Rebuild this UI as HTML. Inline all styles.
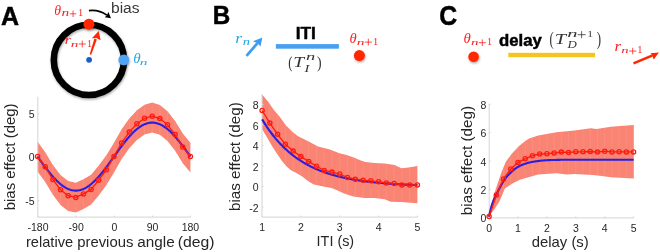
<!DOCTYPE html>
<html><head><meta charset="utf-8"><style>
html,body{margin:0;padding:0;background:#fff;width:660px;height:252px;overflow:hidden}
svg{display:block;will-change:transform}
text{font-family:"Liberation Sans",sans-serif}
.si{font-family:"Liberation Serif",serif;font-style:italic}
.sr{font-family:"Liberation Serif",serif}
.ab{font-weight:bold}
</style></head><body>
<svg width="660" height="252" viewBox="0 0 660 252">
<defs>
<filter id="sh" x="-20%" y="-20%" width="140%" height="140%">
<feDropShadow dx="0.6" dy="1.4" stdDeviation="1.1" flood-color="#000" flood-opacity="0.35"/>
</filter>
</defs>
<rect width="660" height="252" fill="#fff"/>

<g font-weight="bold" font-size="25" fill="#000" stroke="#000" stroke-width="0.5" stroke-linejoin="round">
<text x="1.0" y="24.5">A</text><text transform="translate(212.8,24.45) scale(0.97,1)">B</text><text font-size="27" transform="translate(439.2,25.1) scale(0.92,1)">C</text>
</g>
<g filter="url(#sh)">
<circle cx="88.9" cy="59.9" r="35.1" fill="none" stroke="#000" stroke-width="6.6"/>
</g>
<circle cx="89.1" cy="59.8" r="2.9" fill="#1a5fc8"/>
<g filter="url(#sh)"><circle cx="88.9" cy="24.2" r="5.5" fill="#ff2600"/>
<circle cx="123.8" cy="59.9" r="5.4" fill="#4fa3f2"/></g>
<polygon points="89.7,54.2 91.2,54.7 96.9,39.4 94.4,38.6" fill="#ff2600"/>
<polygon points="98.7,31 100.6,40.2 96.2,37.9 91.9,38.2" fill="#ff2600"/>
<path d="M88.9,10.6 Q99,9.4 106.8,15.2" fill="none" stroke="#000" stroke-width="1.6"/>
<polygon points="111,18.3 104.8,17.3 106.8,15.2 108.4,12.0" fill="#000"/>
<text class="ar" font-size="14.5" fill="#3a3a3a" transform="translate(110.96,12.70) scale(1.0782,1)">bias</text>
<text class="si" font-size="14.34" fill="#ff2020" transform="translate(54.33,14.66) scale(0.964,1)">θ</text><text class="si" font-size="9.34" fill="#ff2020" transform="translate(61.61,16.48) scale(1.652,1)">n</text><path d="M69.80,13.80H76.30M73.05,10.50V17.10" stroke="#ff2020" stroke-width="0.8" fill="none"/><text class="sr" font-size="9.81" fill="#ff2020" transform="translate(77.96,16.48) scale(1.066,1)">1</text>
<text class="si" font-size="12.56" fill="#ff2020" transform="translate(64.67,44.08) scale(1.242,1)">r</text><text class="si" font-size="8.91" fill="#ff2020" transform="translate(70.81,46.58) scale(1.705,1)">n</text><path d="M78.70,44.00H85.80M82.25,40.60V47.40" stroke="#ff2020" stroke-width="0.8" fill="none"/><text class="sr" font-size="9.81" fill="#ff2020" transform="translate(86.89,46.58) scale(1.037,1)">1</text>
<text class="si" font-size="14.20" fill="#22a9e1" transform="translate(133.27,63.46) scale(1.058,1)">θ</text><text class="si" font-size="8.91" fill="#22a9e1" transform="translate(139.81,65.38) scale(1.732,1)">n</text>
<text class="si" font-size="13.84" fill="#22a9e1" transform="translate(235.19,42.98) scale(1.271,1)">r</text><text class="si" font-size="9.56" fill="#22a9e1" transform="translate(242.74,45.18) scale(1.517,1)">n</text>
<line x1="246.5" y1="55.9" x2="257.5" y2="43.2" stroke="#3d9df5" stroke-width="2.8"/>
<polygon points="262.4,37.5 260.5,46.4 257.5,43.2 252.9,41.3" fill="#3d9df5"/>
<text class="ab" font-size="16.5" fill="#000" transform="translate(295.65,38.60) scale(1.0499,1)" stroke="#000" stroke-width="0.45">ITI</text>
<rect x="275.9" y="44.1" width="63" height="4.6" fill="#4aa0f0"/>
<text class="sr" font-size="17.57" fill="#333333" transform="translate(288.19,68.07) scale(0.718,1)">(</text><text class="si" font-size="14.83" fill="#333333" transform="translate(293.32,67.08) scale(1.320,1)">T</text><text class="si" font-size="9.77" fill="#333333" transform="translate(305.90,60.48) scale(1.893,1)">n</text><text class="si" font-size="9.81" fill="#333333" transform="translate(304.62,71.88) scale(1.484,1)">I</text><text class="sr" font-size="17.57" fill="#333333" transform="translate(317.06,68.07) scale(0.784,1)">)</text>
<text class="si" font-size="15.33" fill="#ff2020" transform="translate(349.39,42.85) scale(0.949,1)">θ</text><text class="si" font-size="8.91" fill="#ff2020" transform="translate(356.71,44.58) scale(1.732,1)">n</text><path d="M364.70,42.10H371.90M368.30,38.60V45.60" stroke="#ff2020" stroke-width="0.8" fill="none"/><text class="sr" font-size="9.36" fill="#ff2020" transform="translate(372.96,44.58) scale(1.118,1)">1</text>
<g filter="url(#sh)"><circle cx="359.4" cy="55.6" r="5.5" fill="#ff2600"/></g>
<text class="si" font-size="14.77" fill="#ff2020" transform="translate(463.48,43.26) scale(1.001,1)">θ</text><text class="si" font-size="8.06" fill="#ff2020" transform="translate(470.92,44.98) scale(1.857,1)">n</text><path d="M478.70,42.70H485.90M482.30,39.40V46.00" stroke="#ff2020" stroke-width="0.8" fill="none"/><text class="sr" font-size="9.96" fill="#ff2020" transform="translate(487.09,45.38) scale(1.021,1)">1</text>
<g filter="url(#sh)"><circle cx="473.6" cy="56.7" r="5.3" fill="#ff2600"/></g>
<text class="ab" font-size="16.0" fill="#000" transform="translate(499.00,46.30) scale(1.0465,1)" stroke="#000" stroke-width="0.45">delay</text>
<text class="sr" font-size="19.00" fill="#333333" transform="translate(549.59,44.76) scale(0.664,1)">(</text><text class="si" font-size="14.83" fill="#333333" transform="translate(554.67,43.58) scale(1.369,1)">T</text><text class="si" font-size="9.77" fill="#333333" transform="translate(567.23,36.88) scale(2.109,1)">n</text><path d="M577.60,34.70H585.60M581.60,31.20V38.20" stroke="#333333" stroke-width="0.8" fill="none"/><text class="sr" font-size="8.90" fill="#333333" transform="translate(587.26,36.88) scale(1.303,1)">1</text><text class="si" font-size="10.57" fill="#333333" transform="translate(567.53,48.38) scale(1.222,1)">D</text><text class="sr" font-size="19.00" fill="#333333" transform="translate(596.69,44.76) scale(0.684,1)">)</text>
<rect x="508.3" y="52.8" width="86.7" height="4.4" fill="#f4c520"/>
<text class="si" font-size="14.06" fill="#ff2020" transform="translate(614.62,51.28) scale(1.191,1)">r</text><text class="si" font-size="8.70" fill="#ff2020" transform="translate(621.23,53.48) scale(1.693,1)">n</text><path d="M629.10,51.05H636.30M632.70,47.80V54.30" stroke="#ff2020" stroke-width="0.8" fill="none"/><text class="sr" font-size="9.51" fill="#ff2020" transform="translate(637.26,53.48) scale(1.100,1)">1</text>
<line x1="633.5" y1="63.4" x2="652.0" y2="55.6" stroke="#ff2600" stroke-width="2.6"/>
<polygon points="658.9,52.6 653.8,59.6 652.0,55.6 650.6,53.2" fill="#ff2600"/>
<polygon points="37.60,141.80 45.24,152.20 52.88,165.00 60.52,175.10 68.16,181.10 75.80,182.80 83.44,179.30 91.08,174.80 98.72,165.60 106.36,155.20 114.00,142.80 121.64,129.30 129.28,118.50 136.92,110.20 144.56,104.70 152.20,102.60 159.84,105.00 167.48,111.20 175.12,120.90 182.76,133.50 190.40,142.80 190.40,172.60 182.76,163.30 175.12,150.70 167.48,141.00 159.84,134.80 152.20,132.40 144.56,134.50 136.92,140.00 129.28,148.30 121.64,159.10 114.00,172.60 106.36,185.00 98.72,195.40 91.08,204.60 83.44,209.10 75.80,212.60 68.16,210.90 60.52,204.90 52.88,194.80 45.24,182.00 37.60,171.60" fill="#fa8474"/>
<g stroke="#fb9486" stroke-width="0.6"><line x1="45.24" y1="152.70" x2="45.24" y2="181.50"/><line x1="52.88" y1="165.50" x2="52.88" y2="194.30"/><line x1="60.52" y1="175.60" x2="60.52" y2="204.40"/><line x1="68.16" y1="181.60" x2="68.16" y2="210.40"/><line x1="75.80" y1="183.30" x2="75.80" y2="212.10"/><line x1="83.44" y1="179.80" x2="83.44" y2="208.60"/><line x1="91.08" y1="175.30" x2="91.08" y2="204.10"/><line x1="98.72" y1="166.10" x2="98.72" y2="194.90"/><line x1="106.36" y1="155.70" x2="106.36" y2="184.50"/><line x1="114.00" y1="143.30" x2="114.00" y2="172.10"/><line x1="121.64" y1="129.80" x2="121.64" y2="158.60"/><line x1="129.28" y1="119.00" x2="129.28" y2="147.80"/><line x1="136.92" y1="110.70" x2="136.92" y2="139.50"/><line x1="144.56" y1="105.20" x2="144.56" y2="134.00"/><line x1="152.20" y1="103.10" x2="152.20" y2="131.90"/><line x1="159.84" y1="105.50" x2="159.84" y2="134.30"/><line x1="167.48" y1="111.70" x2="167.48" y2="140.50"/><line x1="175.12" y1="121.40" x2="175.12" y2="150.20"/><line x1="182.76" y1="134.00" x2="182.76" y2="162.80"/></g>
<g stroke="#d4d4d4" stroke-width="1" fill="none"><polyline points="37.8,96.6 37.8,217.1 190.4,217.1"/><line x1="38" y1="217.1" x2="38" y2="215.6"/><line x1="76.2" y1="217.1" x2="76.2" y2="215.6"/><line x1="114.4" y1="217.1" x2="114.4" y2="215.6"/><line x1="152.6" y1="217.1" x2="152.6" y2="215.6"/><line x1="190.4" y1="217.1" x2="190.4" y2="215.6"/><line x1="37.8" y1="114" x2="39.3" y2="114"/><line x1="37.8" y1="157" x2="39.3" y2="157"/><line x1="37.8" y1="200.3" x2="39.3" y2="200.3"/></g>
<polyline points="37.60,156.60 38.36,157.67 39.13,158.73 39.89,159.80 40.66,160.86 41.42,161.92 42.18,162.97 42.95,164.02 43.71,165.06 44.48,166.09 45.24,167.11 46.00,168.12 46.77,169.12 47.53,170.10 48.30,171.08 49.06,172.04 49.82,172.98 50.59,173.91 51.35,174.82 52.12,175.71 52.88,176.58 53.64,177.44 54.41,178.27 55.17,179.08 55.94,179.87 56.70,180.64 57.46,181.38 58.23,182.10 58.99,182.80 59.76,183.47 60.52,184.11 61.28,184.72 62.05,185.31 62.81,185.87 63.58,186.39 64.34,186.89 65.10,187.36 65.87,187.80 66.63,188.21 67.40,188.59 68.16,188.94 68.92,189.25 69.69,189.53 70.45,189.78 71.22,190.00 71.98,190.18 72.74,190.33 73.51,190.45 74.27,190.53 75.04,190.58 75.80,190.60 76.56,190.58 77.33,190.53 78.09,190.45 78.86,190.33 79.62,190.18 80.38,190.00 81.15,189.78 81.91,189.53 82.68,189.25 83.44,188.94 84.20,188.59 84.97,188.21 85.73,187.80 86.50,187.36 87.26,186.89 88.02,186.39 88.79,185.87 89.55,185.31 90.32,184.72 91.08,184.11 91.84,183.47 92.61,182.80 93.37,182.10 94.14,181.38 94.90,180.64 95.66,179.87 96.43,179.08 97.19,178.27 97.96,177.44 98.72,176.58 99.48,175.71 100.25,174.82 101.01,173.91 101.78,172.98 102.54,172.04 103.30,171.08 104.07,170.10 104.83,169.12 105.60,168.12 106.36,167.11 107.12,166.09 107.89,165.06 108.65,164.02 109.42,162.97 110.18,161.92 110.94,160.86 111.71,159.80 112.47,158.73 113.24,157.67 114.00,156.60 114.76,155.53 115.53,154.47 116.29,153.40 117.06,152.34 117.82,151.28 118.58,150.23 119.35,149.18 120.11,148.14 120.88,147.11 121.64,146.09 122.40,145.08 123.17,144.08 123.93,143.10 124.70,142.12 125.46,141.16 126.22,140.22 126.99,139.29 127.75,138.38 128.52,137.49 129.28,136.62 130.04,135.76 130.81,134.93 131.57,134.12 132.34,133.33 133.10,132.56 133.86,131.82 134.63,131.10 135.39,130.40 136.16,129.73 136.92,129.09 137.68,128.48 138.45,127.89 139.21,127.33 139.98,126.81 140.74,126.31 141.50,125.84 142.27,125.40 143.03,124.99 143.80,124.61 144.56,124.26 145.32,123.95 146.09,123.67 146.85,123.42 147.62,123.20 148.38,123.02 149.14,122.87 149.91,122.75 150.67,122.67 151.44,122.62 152.20,122.60 152.96,122.62 153.73,122.67 154.49,122.75 155.26,122.87 156.02,123.02 156.78,123.20 157.55,123.42 158.31,123.67 159.08,123.95 159.84,124.26 160.60,124.61 161.37,124.99 162.13,125.40 162.90,125.84 163.66,126.31 164.42,126.81 165.19,127.33 165.95,127.89 166.72,128.48 167.48,129.09 168.24,129.73 169.01,130.40 169.77,131.10 170.54,131.82 171.30,132.56 172.06,133.33 172.83,134.12 173.59,134.93 174.36,135.76 175.12,136.62 175.88,137.49 176.65,138.38 177.41,139.29 178.18,140.22 178.94,141.16 179.70,142.12 180.47,143.10 181.23,144.08 182.00,145.08 182.76,146.09 183.52,147.11 184.29,148.14 185.05,149.18 185.82,150.23 186.58,151.28 187.34,152.34 188.11,153.40 188.87,154.47 189.64,155.53 190.40,156.60" fill="none" stroke="#2a1ee0" stroke-width="2.1"/>
<polyline points="37.60,156.40 45.24,166.80 52.88,179.60 60.52,189.70 68.16,195.70 75.80,197.40 83.44,193.90 91.08,189.40 98.72,180.20 106.36,169.80 114.00,156.40 121.64,142.90 129.28,132.10 136.92,123.80 144.56,118.30 152.20,116.20 159.84,118.60 167.48,124.80 175.12,134.50 182.76,147.10 190.40,156.40" fill="none" stroke="#ff1a0d" stroke-width="1.3"/>
<g fill="none" stroke="#ff1a0d" stroke-width="1.3"><circle cx="37.60" cy="156.40" r="2.1"/><circle cx="45.24" cy="166.80" r="2.1"/><circle cx="52.88" cy="179.60" r="2.1"/><circle cx="60.52" cy="189.70" r="2.1"/><circle cx="68.16" cy="195.70" r="2.1"/><circle cx="75.80" cy="197.40" r="2.1"/><circle cx="83.44" cy="193.90" r="2.1"/><circle cx="91.08" cy="189.40" r="2.1"/><circle cx="98.72" cy="180.20" r="2.1"/><circle cx="106.36" cy="169.80" r="2.1"/><circle cx="114.00" cy="156.40" r="2.1"/><circle cx="121.64" cy="142.90" r="2.1"/><circle cx="129.28" cy="132.10" r="2.1"/><circle cx="136.92" cy="123.80" r="2.1"/><circle cx="144.56" cy="118.30" r="2.1"/><circle cx="152.20" cy="116.20" r="2.1"/><circle cx="159.84" cy="118.60" r="2.1"/><circle cx="167.48" cy="124.80" r="2.1"/><circle cx="175.12" cy="134.50" r="2.1"/><circle cx="182.76" cy="147.10" r="2.1"/><circle cx="190.40" cy="156.40" r="2.1"/></g>
<polygon points="262.10,94.40 268.00,101.50 273.90,109.90 279.90,117.00 285.80,125.30 291.80,131.30 297.70,136.00 309.60,142.00 318.00,146.50 329.90,149.50 339.40,153.30 346.60,155.00 353.70,157.40 360.90,160.50 365.60,162.10 374.80,163.00 384.70,163.60 394.60,165.00 401.50,168.30 408.50,167.50 417.40,166.00 417.40,203.30 410.50,202.70 400.60,202.10 390.60,201.70 384.70,199.30 374.80,198.10 364.80,198.10 354.90,196.70 350.00,195.50 343.60,193.30 337.60,190.50 331.70,188.10 325.70,186.90 319.80,185.70 313.80,184.50 307.90,181.00 301.90,176.20 296.00,172.80 291.30,170.50 286.60,166.50 281.80,160.80 277.00,153.70 272.30,146.50 267.50,138.20 262.10,129.00" fill="#fa8474"/>
<g stroke="#fb9486" stroke-width="0.6"><line x1="269.87" y1="104.66" x2="269.87" y2="141.79"/><line x1="277.63" y1="114.81" x2="277.63" y2="154.13"/><line x1="285.40" y1="125.23" x2="285.40" y2="164.57"/><line x1="293.16" y1="132.88" x2="293.16" y2="170.91"/><line x1="300.93" y1="138.13" x2="300.93" y2="175.14"/><line x1="308.69" y1="142.04" x2="308.69" y2="180.97"/><line x1="316.46" y1="146.17" x2="316.46" y2="184.53"/><line x1="324.22" y1="148.57" x2="324.22" y2="186.10"/><line x1="331.99" y1="150.83" x2="331.99" y2="187.72"/><line x1="339.75" y1="153.88" x2="339.75" y2="191.00"/><line x1="347.51" y1="155.81" x2="347.51" y2="194.15"/><line x1="355.28" y1="158.58" x2="355.28" y2="196.25"/><line x1="363.05" y1="161.73" x2="363.05" y2="197.35"/><line x1="370.81" y1="163.11" x2="370.81" y2="197.60"/><line x1="378.58" y1="163.73" x2="378.58" y2="198.06"/><line x1="386.34" y1="164.33" x2="386.34" y2="199.47"/><line x1="394.11" y1="165.43" x2="394.11" y2="201.34"/><line x1="401.87" y1="168.76" x2="401.87" y2="201.68"/><line x1="409.63" y1="167.81" x2="409.63" y2="202.15"/></g>
<g stroke="#d4d4d4" stroke-width="1" fill="none"><polyline points="262.0,94.3 262.0,217.1 417.4,217.1"/><line x1="262.1" y1="217.1" x2="262.1" y2="215.6"/><line x1="300.9" y1="217.1" x2="300.9" y2="215.6"/><line x1="339.7" y1="217.1" x2="339.7" y2="215.6"/><line x1="378.6" y1="217.1" x2="378.6" y2="215.6"/><line x1="417.4" y1="217.1" x2="417.4" y2="215.6"/><line x1="262.0" y1="104.5" x2="263.5" y2="104.5"/><line x1="262.0" y1="125" x2="263.5" y2="125"/><line x1="262.0" y1="145.5" x2="263.5" y2="145.5"/><line x1="262.0" y1="166" x2="263.5" y2="166"/><line x1="262.0" y1="186.5" x2="263.5" y2="186.5"/><line x1="262.0" y1="207" x2="263.5" y2="207"/></g>
<polyline points="262.10,119.36 262.88,120.65 263.65,121.91 264.43,123.14 265.21,124.35 265.98,125.54 266.76,126.71 267.54,127.85 268.31,128.97 269.09,130.07 269.87,131.15 270.64,132.21 271.42,133.25 272.20,134.26 272.97,135.26 273.75,136.24 274.53,137.20 275.30,138.15 276.08,139.07 276.86,139.98 277.63,140.87 278.41,141.74 279.19,142.59 279.96,143.43 280.74,144.26 281.52,145.07 282.29,145.86 283.07,146.63 283.84,147.40 284.62,148.14 285.40,148.88 286.17,149.60 286.95,150.30 287.73,150.99 288.50,151.67 289.28,152.34 290.06,152.99 290.83,153.63 291.61,154.26 292.39,154.88 293.16,155.48 293.94,156.08 294.72,156.66 295.49,157.23 296.27,157.79 297.05,158.34 297.82,158.88 298.60,159.40 299.38,159.92 300.15,160.43 300.93,160.93 301.71,161.42 302.48,161.90 303.26,162.37 304.04,162.83 304.81,163.28 305.59,163.73 306.37,164.16 307.14,164.59 307.92,165.01 308.70,165.42 309.47,165.82 310.25,166.22 311.03,166.60 311.80,166.98 312.58,167.36 313.36,167.72 314.13,168.08 314.91,168.43 315.69,168.78 316.46,169.12 317.24,169.45 318.02,169.78 318.79,170.10 319.57,170.41 320.35,170.72 321.12,171.02 321.90,171.32 322.67,171.61 323.45,171.89 324.23,172.17 325.00,172.44 325.78,172.71 326.56,172.98 327.33,173.24 328.11,173.49 328.89,173.74 329.66,173.98 330.44,174.22 331.22,174.46 331.99,174.69 332.77,174.91 333.55,175.13 334.32,175.35 335.10,175.56 335.88,175.77 336.65,175.98 337.43,176.18 338.21,176.38 338.98,176.57 339.76,176.76 340.54,176.95 341.31,177.13 342.09,177.31 342.87,177.48 343.64,177.66 344.42,177.83 345.20,177.99 345.97,178.15 346.75,178.31 347.53,178.47 348.30,178.62 349.08,178.77 349.86,178.92 350.63,179.07 351.41,179.21 352.19,179.35 352.96,179.48 353.74,179.62 354.52,179.75 355.29,179.88 356.07,180.01 356.85,180.13 357.62,180.25 358.40,180.37 359.18,180.49 359.95,180.60 360.73,180.72 361.50,180.83 362.28,180.94 363.06,181.04 363.83,181.15 364.61,181.25 365.39,181.35 366.16,181.45 366.94,181.54 367.72,181.64 368.49,181.73 369.27,181.82 370.05,181.91 370.82,182.00 371.60,182.09 372.38,182.17 373.15,182.25 373.93,182.33 374.71,182.41 375.48,182.49 376.26,182.57 377.04,182.64 377.81,182.72 378.59,182.79 379.37,182.86 380.14,182.93 380.92,183.00 381.70,183.07 382.47,183.13 383.25,183.20 384.03,183.26 384.80,183.32 385.58,183.38 386.36,183.44 387.13,183.50 387.91,183.56 388.69,183.61 389.46,183.67 390.24,183.72 391.02,183.78 391.79,183.83 392.57,183.88 393.35,183.93 394.12,183.98 394.90,184.03 395.68,184.07 396.45,184.12 397.23,184.17 398.00,184.21 398.78,184.25 399.56,184.30 400.33,184.34 401.11,184.38 401.89,184.42 402.66,184.46 403.44,184.50 404.22,184.54 404.99,184.58 405.77,184.61 406.55,184.65 407.32,184.68 408.10,184.72 408.88,184.75 409.65,184.79 410.43,184.82 411.21,184.85 411.98,184.88 412.76,184.91 413.54,184.94 414.31,184.97 415.09,185.00 415.87,185.03 416.64,185.06 417.42,185.09" fill="none" stroke="#2a1ee0" stroke-width="2.1"/>
<polyline points="262.10,110.50 269.87,123.10 277.63,134.30 285.40,144.30 293.16,151.10 300.93,156.60 308.69,161.40 316.46,166.30 324.22,170.50 331.99,172.10 339.75,174.00 347.51,177.50 355.28,179.20 363.05,180.20 370.81,180.80 378.58,181.80 386.34,183.00 394.11,183.40 401.87,185.00 409.63,185.00 417.40,185.00" fill="none" stroke="#ff1a0d" stroke-width="1.3"/>
<g fill="none" stroke="#ff1a0d" stroke-width="1.3"><circle cx="262.10" cy="110.50" r="2.1"/><circle cx="269.87" cy="123.10" r="2.1"/><circle cx="277.63" cy="134.30" r="2.1"/><circle cx="285.40" cy="144.30" r="2.1"/><circle cx="293.16" cy="151.10" r="2.1"/><circle cx="300.93" cy="156.60" r="2.1"/><circle cx="308.69" cy="161.40" r="2.1"/><circle cx="316.46" cy="166.30" r="2.1"/><circle cx="324.22" cy="170.50" r="2.1"/><circle cx="331.99" cy="172.10" r="2.1"/><circle cx="339.75" cy="174.00" r="2.1"/><circle cx="347.51" cy="177.50" r="2.1"/><circle cx="355.28" cy="179.20" r="2.1"/><circle cx="363.05" cy="180.20" r="2.1"/><circle cx="370.81" cy="180.80" r="2.1"/><circle cx="378.58" cy="181.80" r="2.1"/><circle cx="386.34" cy="183.00" r="2.1"/><circle cx="394.11" cy="183.40" r="2.1"/><circle cx="401.87" cy="185.00" r="2.1"/><circle cx="409.63" cy="185.00" r="2.1"/><circle cx="417.40" cy="185.00" r="2.1"/></g>
<polygon points="489.10,216.20 491.10,207.00 493.60,196.10 497.10,185.00 501.60,172.00 505.80,161.70 511.80,153.80 519.00,145.90 525.30,141.10 529.10,138.60 538.20,135.40 556.40,132.30 574.50,130.50 590.90,128.30 596.40,129.00 610.90,126.80 633.80,125.00 633.80,178.60 610.90,177.30 601.80,176.00 592.70,175.10 574.50,174.00 567.30,174.50 556.40,173.30 538.20,174.50 528.50,177.30 519.80,179.80 513.30,182.90 504.80,188.60 502.00,195.50 499.20,201.70 494.50,209.00 489.10,216.60" fill="#fa8474"/>
<g stroke="#fb9486" stroke-width="0.6"><line x1="496.33" y1="187.96" x2="496.33" y2="205.67"/><line x1="503.55" y1="167.72" x2="503.55" y2="191.18"/><line x1="510.78" y1="155.65" x2="510.78" y2="184.09"/><line x1="518.00" y1="147.50" x2="518.00" y2="180.16"/><line x1="525.23" y1="141.66" x2="525.23" y2="177.74"/><line x1="532.45" y1="137.92" x2="532.45" y2="175.66"/><line x1="539.68" y1="135.65" x2="539.68" y2="173.90"/><line x1="546.90" y1="134.42" x2="546.90" y2="173.43"/><line x1="554.12" y1="133.19" x2="554.12" y2="172.95"/><line x1="561.35" y1="132.31" x2="561.35" y2="173.34"/><line x1="568.58" y1="131.59" x2="568.58" y2="173.91"/><line x1="575.80" y1="130.83" x2="575.80" y2="173.58"/><line x1="583.02" y1="129.86" x2="583.02" y2="174.02"/><line x1="590.25" y1="128.89" x2="590.25" y2="174.45"/><line x1="597.48" y1="129.34" x2="597.48" y2="175.07"/><line x1="604.70" y1="128.24" x2="604.70" y2="175.91"/><line x1="611.92" y1="127.22" x2="611.92" y2="176.86"/><line x1="619.15" y1="126.65" x2="619.15" y2="177.27"/><line x1="626.38" y1="126.08" x2="626.38" y2="177.68"/></g>
<g stroke="#d4d4d4" stroke-width="1" fill="none"><polyline points="489.2,104.0 489.2,217.9 633.6,217.9"/><line x1="489.1" y1="217.9" x2="489.1" y2="216.4"/><line x1="518" y1="217.9" x2="518" y2="216.4"/><line x1="547" y1="217.9" x2="547" y2="216.4"/><line x1="575.8" y1="217.9" x2="575.8" y2="216.4"/><line x1="604.7" y1="217.9" x2="604.7" y2="216.4"/><line x1="633.6" y1="217.9" x2="633.6" y2="216.4"/><line x1="489.2" y1="104.2" x2="490.7" y2="104.2"/><line x1="489.2" y1="132.6" x2="490.7" y2="132.6"/><line x1="489.2" y1="161" x2="490.7" y2="161"/><line x1="489.2" y1="189.4" x2="490.7" y2="189.4"/><line x1="489.2" y1="217.8" x2="490.7" y2="217.8"/></g>
<polyline points="488.90,216.80 489.16,215.75 489.50,214.32 489.90,212.61 490.36,210.74 490.84,208.79 491.34,206.89 491.83,205.12 492.30,203.60 492.77,202.29 493.26,201.08 493.76,199.95 494.26,198.89 494.77,197.88 495.26,196.90 495.74,195.95 496.20,195.00 496.62,194.09 497.02,193.24 497.39,192.44 497.76,191.66 498.14,190.89 498.52,190.10 498.94,189.28 499.40,188.40 499.91,187.44 500.46,186.42 501.04,185.35 501.63,184.27 502.23,183.21 502.81,182.19 503.38,181.24 503.90,180.40 504.39,179.66 504.87,178.98 505.33,178.37 505.77,177.81 506.20,177.29 506.62,176.80 507.02,176.34 507.40,175.90 507.74,175.51 508.04,175.18 508.30,174.90 508.56,174.65 508.82,174.40 509.12,174.12 509.47,173.79 509.90,173.40 510.41,172.92 510.97,172.38 511.59,171.79 512.24,171.18 512.92,170.57 513.59,169.97 514.26,169.40 514.90,168.90 515.53,168.45 516.15,168.02 516.78,167.62 517.41,167.24 518.03,166.89 518.66,166.54 519.28,166.22 519.90,165.90 520.52,165.60 521.13,165.32 521.74,165.05 522.35,164.81 522.96,164.57 523.57,164.34 524.18,164.12 524.80,163.90 525.40,163.69 525.98,163.49 526.55,163.29 527.12,163.11 527.72,162.93 528.36,162.75 529.05,162.57 529.80,162.40 530.63,162.22 531.52,162.05 532.47,161.88 533.45,161.71 534.46,161.54 535.48,161.39 536.50,161.24 537.50,161.10 538.48,160.97 539.44,160.86 540.40,160.75 541.38,160.64 542.38,160.55 543.42,160.46 544.52,160.38 545.70,160.30 546.95,160.23 548.27,160.17 549.64,160.11 551.05,160.06 552.50,160.01 553.98,159.97 555.48,159.94 557.00,159.90 558.43,159.87 559.73,159.84 561.00,159.82 562.33,159.80 563.81,159.79 565.51,159.77 567.55,159.76 570.00,159.75 572.91,159.74 576.22,159.73 579.85,159.72 583.71,159.72 587.74,159.71 591.85,159.71 595.96,159.70 600.00,159.70 604.26,159.70 608.93,159.70 613.81,159.70 618.67,159.70 623.30,159.70 627.48,159.70 630.98,159.70 633.60,159.70" fill="none" stroke="#2a1ee0" stroke-width="2.1"/>
<polyline points="489.10,216.60 496.33,195.00 503.55,178.90 510.78,168.90 518.00,162.40 525.23,158.80 532.45,155.70 539.68,154.00 546.90,153.80 554.12,152.90 561.35,152.10 568.58,152.40 575.80,151.80 583.02,151.80 590.25,151.50 597.48,152.10 604.70,151.20 611.92,151.90 619.15,151.80 626.38,151.90 633.60,151.90" fill="none" stroke="#ff1a0d" stroke-width="1.3"/>
<g fill="none" stroke="#ff1a0d" stroke-width="1.3"><circle cx="489.10" cy="216.60" r="2.1"/><circle cx="496.33" cy="195.00" r="2.1"/><circle cx="503.55" cy="178.90" r="2.1"/><circle cx="510.78" cy="168.90" r="2.1"/><circle cx="518.00" cy="162.40" r="2.1"/><circle cx="525.23" cy="158.80" r="2.1"/><circle cx="532.45" cy="155.70" r="2.1"/><circle cx="539.68" cy="154.00" r="2.1"/><circle cx="546.90" cy="153.80" r="2.1"/><circle cx="554.12" cy="152.90" r="2.1"/><circle cx="561.35" cy="152.10" r="2.1"/><circle cx="568.58" cy="152.40" r="2.1"/><circle cx="575.80" cy="151.80" r="2.1"/><circle cx="583.02" cy="151.80" r="2.1"/><circle cx="590.25" cy="151.50" r="2.1"/><circle cx="597.48" cy="152.10" r="2.1"/><circle cx="604.70" cy="151.20" r="2.1"/><circle cx="611.92" cy="151.90" r="2.1"/><circle cx="619.15" cy="151.80" r="2.1"/><circle cx="626.38" cy="151.90" r="2.1"/><circle cx="633.60" cy="151.90" r="2.1"/></g>
<g font-size="10.5" fill="#262626">
<text x="34.6" y="118.2" text-anchor="end">5</text>
<text x="34.6" y="161.2" text-anchor="end">0</text>
<text x="34.6" y="204.5" text-anchor="end">-5</text>
<text x="38" y="230.5" text-anchor="middle">-180</text>
<text x="76.2" y="230.5" text-anchor="middle">-90</text>
<text x="114.4" y="230.5" text-anchor="middle">0</text>
<text x="152.6" y="230.5" text-anchor="middle">90</text>
<text x="190.4" y="230.5" text-anchor="middle">180</text>
<text x="258.6" y="109.2" text-anchor="end">8</text>
<text x="258.6" y="129.7" text-anchor="end">6</text>
<text x="258.6" y="150.2" text-anchor="end">4</text>
<text x="258.6" y="170.7" text-anchor="end">2</text>
<text x="258.6" y="191.2" text-anchor="end">0</text>
<text x="258.6" y="211.7" text-anchor="end">-2</text>
<text x="262.1" y="230.7" text-anchor="middle">1</text>
<text x="300.9" y="230.7" text-anchor="middle">2</text>
<text x="339.7" y="230.7" text-anchor="middle">3</text>
<text x="378.6" y="230.7" text-anchor="middle">4</text>
<text x="417.4" y="230.7" text-anchor="middle">5</text>
<text x="486.4" y="108.7" text-anchor="end">8</text>
<text x="486.4" y="137.1" text-anchor="end">6</text>
<text x="486.4" y="165.5" text-anchor="end">4</text>
<text x="486.4" y="193.9" text-anchor="end">2</text>
<text x="486.4" y="222.3" text-anchor="end">0</text>
<text x="489.1" y="231.7" text-anchor="middle">0</text>
<text x="518" y="231.7" text-anchor="middle">1</text>
<text x="547" y="231.7" text-anchor="middle">2</text>
<text x="575.8" y="231.7" text-anchor="middle">3</text>
<text x="604.7" y="231.7" text-anchor="middle">4</text>
<text x="633.6" y="231.7" text-anchor="middle">5</text>
</g>
<text class="ar" font-size="14.6" fill="#262626" transform="translate(25.92,246.60) scale(1.0026,1)">relative</text>
<text class="ar" font-size="14.6" fill="#262626" transform="translate(77.21,246.60) scale(1.0190,1)">previous</text>
<text class="ar" font-size="14.6" fill="#262626" transform="translate(137.26,246.60) scale(1.0485,1)">angle</text>
<text class="ar" font-size="14.6" fill="#262626" transform="translate(177.78,246.60) scale(1.0815,1)">(deg)</text>
<text class="ar" font-size="14.6" fill="#262626" transform="translate(316.58,245.70) scale(0.9863,1)">ITI (s)</text>
<text class="ar" font-size="14.6" fill="#262626" transform="translate(531.78,246.70) scale(1.0182,1)">delay (s)</text>
<text class="ar" font-size="14.6" fill="#262626" transform="translate(15.10,210.30) rotate(-90) scale(1.0237,1)">bias effect (deg)</text>
<text class="ar" font-size="14.6" fill="#262626" transform="translate(240.20,211.01) rotate(-90) scale(1.0423,1)">bias effect (deg)</text>
<text class="ar" font-size="14.6" fill="#262626" transform="translate(471.90,215.22) rotate(-90) scale(1.0481,1)">bias effect (deg)</text>
</svg></body></html>
